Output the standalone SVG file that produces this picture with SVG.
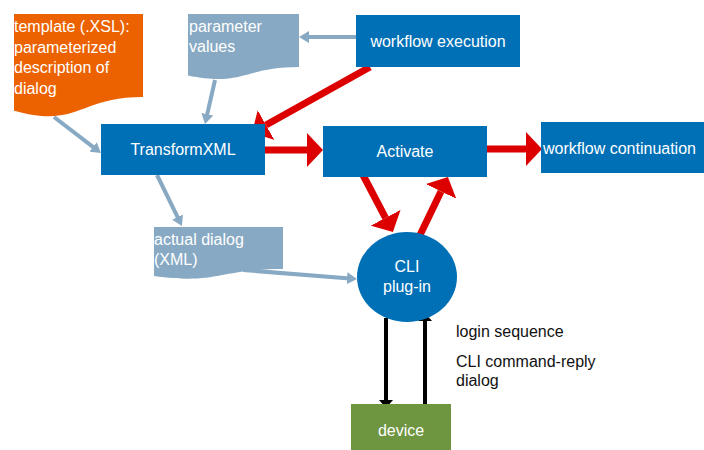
<svg xmlns="http://www.w3.org/2000/svg" width="704" height="450" viewBox="0 0 704 450">
<style>
  .t { font-family: "Liberation Sans", Arial, sans-serif; font-size: 16px; fill: #ffffff; }
  .d { font-family: "Liberation Sans", Arial, sans-serif; font-size: 16px; fill: #111111; }
  .blue { fill: #0070b6; }
  .gray { fill: #87a9c3; }
  .red { stroke: #dc0000; stroke-width: 7; fill: none; marker-end: url(#mr); }
  .gl { stroke: #87a9c3; stroke-width: 4; fill: none; marker-end: url(#mg); }
  .bl { stroke: #000000; stroke-width: 4; fill: none; marker-end: url(#mb); }
</style>
<defs>
  <marker id="mr" viewBox="0 0 16 34" refX="0" refY="17" markerWidth="16" markerHeight="34" markerUnits="userSpaceOnUse" orient="auto">
    <path d="M0,0 L16,17 L0,34 Z" fill="#dc0000"/>
  </marker>
  <marker id="mg" viewBox="0 0 10 12" refX="6" refY="6" markerWidth="10" markerHeight="12" markerUnits="userSpaceOnUse" orient="auto">
    <path d="M0,0 L10,6 L0,12 Z" fill="#87a9c3"/>
  </marker>
  <marker id="mb" viewBox="0 0 8 14" refX="4" refY="7" markerWidth="8" markerHeight="14" markerUnits="userSpaceOnUse" orient="auto">
    <path d="M0,0 L8,7 L0,14 Z" fill="#000000"/>
  </marker>
</defs>

<g id="connectors">
  <line class="gl" x1="54" y1="117" x2="97.8" y2="150.6"/>
  <line class="gl" x1="215" y1="80" x2="205.9" y2="120.1"/>
  <line class="gl" x1="356" y1="37" x2="303" y2="37"/>
  <line class="gl" x1="157" y1="175" x2="180.2" y2="222.4"/>
  <line class="gl" x1="243" y1="270" x2="353" y2="278.7"/>
  <line class="red" x1="370" y1="67" x2="266" y2="125"/>
  <line class="red" x1="265" y1="150" x2="307" y2="150"/>
  <line class="red" x1="487" y1="149" x2="526" y2="149"/>
  <line class="red" x1="363" y1="175" x2="385.5" y2="217.8"/>
  <line class="red" x1="420" y1="235" x2="441" y2="191.4"/>
  <line class="bl" x1="386" y1="318" x2="386" y2="404"/>
  <line class="bl" x1="425" y1="404" x2="425" y2="317"/>
</g>

<g id="template">
  <path d="M14,14 H143 V97 C78.5,97 78.5,128.6 14,110.7 Z" fill="#ec6200"/>
  <text class="t" x="14" y="32">template (.XSL):</text>
  <text class="t" x="14" y="52.5">parameterized</text>
  <text class="t" x="14" y="73">description of</text>
  <text class="t" x="14" y="93.5">dialog</text>
</g>

<g id="parameter-values">
  <path d="M188,14 H299 V67 C243.5,67 243.5,87 188,75.6 Z" class="gray"/>
  <text class="t" x="189" y="32">parameter</text>
  <text class="t" x="189" y="52">values</text>
</g>

<g id="workflow-execution">
  <rect x="356" y="15" width="164" height="52" class="blue"/>
  <text class="t" x="438" y="47" text-anchor="middle">workflow execution</text>
</g>

<g id="transformxml">
  <rect x="101" y="124" width="164" height="51" class="blue"/>
  <text class="t" x="183" y="155" text-anchor="middle">TransformXML</text>
</g>

<g id="activate">
  <rect x="323" y="126" width="164" height="51" class="blue"/>
  <text class="t" x="405" y="157" text-anchor="middle">Activate</text>
</g>

<g id="workflow-continuation">
  <rect x="541" y="122" width="163" height="51" class="blue"/>
  <text class="t" x="543" y="154">workflow continuation</text>
</g>

<g id="actual-dialog">
  <path d="M154,227 H283 V269 C218.5,269 218.5,285 154,276 Z" class="gray"/>
  <text class="t" x="154" y="245">actual dialog</text>
  <text class="t" x="154" y="265">(XML)</text>
</g>

<g id="cli-plugin">
  <ellipse cx="407" cy="277" rx="50" ry="45" class="blue"/>
  <text class="t" x="407" y="272" text-anchor="middle">CLI</text>
  <text class="t" x="407" y="292" text-anchor="middle">plug-in</text>
</g>

<g id="device">
  <rect x="351" y="404" width="100" height="46" fill="#6e9540"/>
  <text class="t" x="401" y="436" text-anchor="middle">device</text>
</g>

<g id="labels">
  <text class="d" x="456" y="337">login sequence</text>
  <text class="d" x="456" y="367">CLI command-reply</text>
  <text class="d" x="456" y="386">dialog</text>
</g>
</svg>
